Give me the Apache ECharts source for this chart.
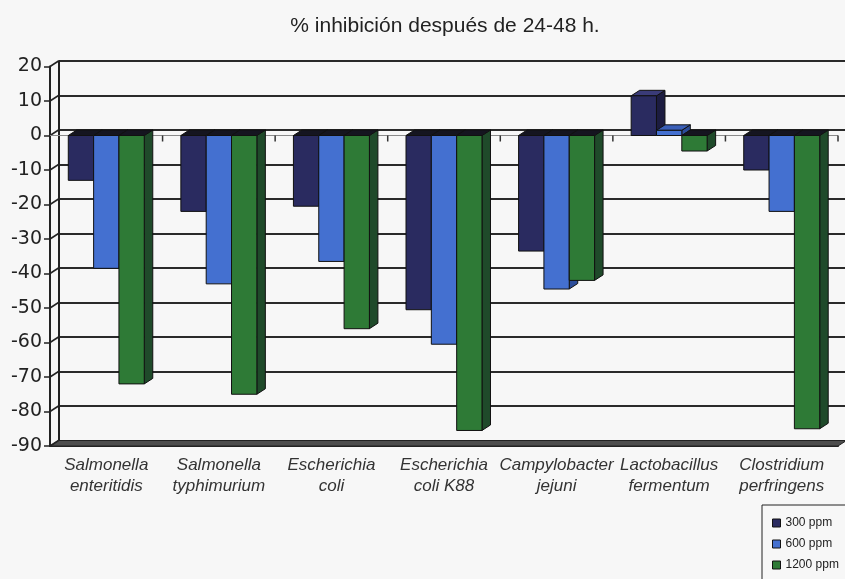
<!DOCTYPE html>
<html>
<head>
<meta charset="utf-8">
<script src="https://cdn.jsdelivr.net/npm/echarts@6/dist/echarts.min.js"></script>
<style>
  html, body { margin: 0; padding: 0; background: #f7f7f7; }
  #chart { width: 845px; height: 579px; }
</style>
</head>
<body>
<div id="chart"></div>
<script>
// datos
var categories = ['Salmonella\nenteritidis', 'Salmonella\ntyphimurium', 'Escherichia\ncoli',
                  'Escherichia\ncoli K88', 'Campylobacter\njejuni', 'Lactobacillus\nfermentum',
                  'Clostridium\nperfringens'];
var ppm300  = [-13, -22, -20.5, -50.5, -33.5, 11.5, -10];
var ppm600  = [-38.5, -43, -36.5, -60.5, -44.5, 1.5, -22];
var ppm1200 = [-72, -75, -56, -85.5, -42, -4.5, -85];
var seriesNames = ['300 ppm', '600 ppm', '1200 ppm'];
var yTicks = [20, 10, 0, -10, -20, -30, -40, -50, -60, -70, -80, -90];

var DX = 8.5, DY = -5.5;   // profundidad 3D

function pairs(arr) {
    return arr.map(function (v, i) { return [i, v]; });
}

// barra 3D: cara frontal + lateral + superior
function bar3d(idx, front, side, topNeg, topPos) {
    return function (params, api) {
        var cat = api.value(0), val = api.value(1);
        var band = api.size([1, 0])[0];
        var bw = band * 0.225;
        var c = api.coord([cat, 0]);
        var e = api.coord([cat, val]);
        var x0 = c[0] - 1.5 * bw + idx * bw, x1 = x0 + bw;
        var top = Math.min(c[1], e[1]), bot = Math.max(c[1], e[1]);
        var edge = { stroke: '#111', lineWidth: 1 };
        return {
            type: 'group',
            children: [
                { type: 'polygon', shape: { points: [[x1, top], [x1 + DX, top + DY], [x1 + DX, bot + DY], [x1, bot]] },
                  style: Object.assign({ fill: side }, edge) },
                { type: 'polygon', shape: { points: [[x0, top], [x0 + DX, top + DY], [x1 + DX, top + DY], [x1, top]] },
                  style: Object.assign({ fill: val < 0 ? topNeg : topPos }, edge) },
                { type: 'rect', shape: { x: x0, y: top, width: bw, height: bot - top },
                  style: Object.assign({ fill: front }, edge) }
            ]
        };
    };
}

// suelo, pared izquierda, plano cero
function frame(params, api) {
    var cs = params.coordSys;
    var band = api.size([1, 0])[0];
    var yb = cs.y + cs.height;
    var y0 = api.coord([0, 0])[1];
    var ch = [];
    ch.push({ type: 'polygon', shape: { points: [[cs.x, yb], [cs.x + cs.width, yb], [cs.x + cs.width + DX, yb + DY], [cs.x + DX, yb + DY]] },
              style: { fill: '#4d4d4d', stroke: '#222', lineWidth: 1 } });
    yTicks.forEach(function (t) {
        var py = api.coord([0, t])[1];
        ch.push({ type: 'line', shape: { x1: cs.x, y1: py, x2: cs.x + DX, y2: py + DY },
                  style: { stroke: '#222', lineWidth: 1.5 } });
    });
    ch.push({ type: 'line', shape: { x1: cs.x, y1: y0, x2: cs.x + cs.width, y2: y0 },
              style: { stroke: '#8a8a8a', lineWidth: 1 } });
    for (var i = 1; i <= categories.length; i++) {
        var bx = cs.x + i * band;
        ch.push({ type: 'line', shape: { x1: bx, y1: y0, x2: bx, y2: y0 + 6 },
                  style: { stroke: '#333', lineWidth: 1.5 } });
    }
    return { type: 'group', children: ch };
}

var chart = echarts.init(document.getElementById('chart'));
chart.setOption({
    backgroundColor: '#f7f7f7',
    animation: false,
    title: {
        text: '% inhibición después de 24-48 h.',
        left: 440, top: 11, textAlign: 'center',
        textStyle: { fontFamily: 'Liberation Sans', fontSize: 21, fontWeight: 'normal', color: '#222' }
    },
    legend: {
        data: seriesNames,
        orient: 'vertical',
        left: 762, top: 505, height: 100,
        padding: [11, 8, 10, 10],
        icon: 'rect',
        itemWidth: 8, itemHeight: 8, itemGap: 7,
        borderColor: '#222', borderWidth: 1,
        itemStyle: { borderColor: '#111', borderWidth: 1 },
        textStyle: { fontFamily: 'Liberation Sans', fontSize: 12, color: '#222', lineHeight: 14 }
    },
    grid: [
        { left: 50, right: 7, top: 66.5, bottom: 133 },
        { left: 59, right: -2, top: 61, bottom: 138.5 }
    ],
    xAxis: [
        {
            type: 'category', gridIndex: 0, data: categories,
            axisLine: { onZero: false, lineStyle: { color: '#222', width: 2 } },
            axisTick: { length: 6, lineStyle: { color: '#222', width: 1.5 } },
            axisLabel: { interval: 0, margin: 9, fontFamily: 'Liberation Sans', fontStyle: 'italic',
                         fontSize: 17, lineHeight: 21, color: '#333' }
        },
        { type: 'category', gridIndex: 1, data: categories, show: false }
    ],
    yAxis: [
        {
            type: 'value', gridIndex: 0, min: -90, max: 20, interval: 10,
            splitLine: { show: false },
            axisLine: { show: true, lineStyle: { color: '#222', width: 2 } },
            axisTick: { show: true, length: 6, lineStyle: { color: '#222', width: 1.5 } },
            axisLabel: { margin: 8, fontFamily: 'DejaVu Sans', fontSize: 19, color: '#222' }
        },
        {
            type: 'value', gridIndex: 1, min: -90, max: 20, interval: 10,
            splitLine: { show: true, lineStyle: { color: '#2a2a2a', width: 2 } },
            axisLine: { show: true, lineStyle: { color: '#222', width: 2 } },
            axisTick: { show: false },
            axisLabel: { show: false }
        }
    ],
    series: [
        { type: 'custom', name: 'frame', xAxisIndex: 0, yAxisIndex: 0, z: 1, silent: true,
          renderItem: frame, data: [[0, 0]] },
        { type: 'custom', name: seriesNames[0], xAxisIndex: 0, yAxisIndex: 0, z: 2,
          itemStyle: { color: '#2a2b60' },
          renderItem: bar3d(0, '#2a2b60', '#1c1c40', '#151520', '#3a3b78'), data: pairs(ppm300) },
        { type: 'custom', name: seriesNames[1], xAxisIndex: 0, yAxisIndex: 0, z: 2,
          itemStyle: { color: '#4470d0' },
          renderItem: bar3d(1, '#4470d0', '#2c4d9a', '#151520', '#3a5fb8'), data: pairs(ppm600) },
        { type: 'custom', name: seriesNames[2], xAxisIndex: 0, yAxisIndex: 0, z: 2,
          itemStyle: { color: '#2e7a36' },
          renderItem: bar3d(2, '#2e7a36', '#1f4a2a', '#151520', '#2a6a32'), data: pairs(ppm1200) }
    ]
});
</script>
</body>
</html>
